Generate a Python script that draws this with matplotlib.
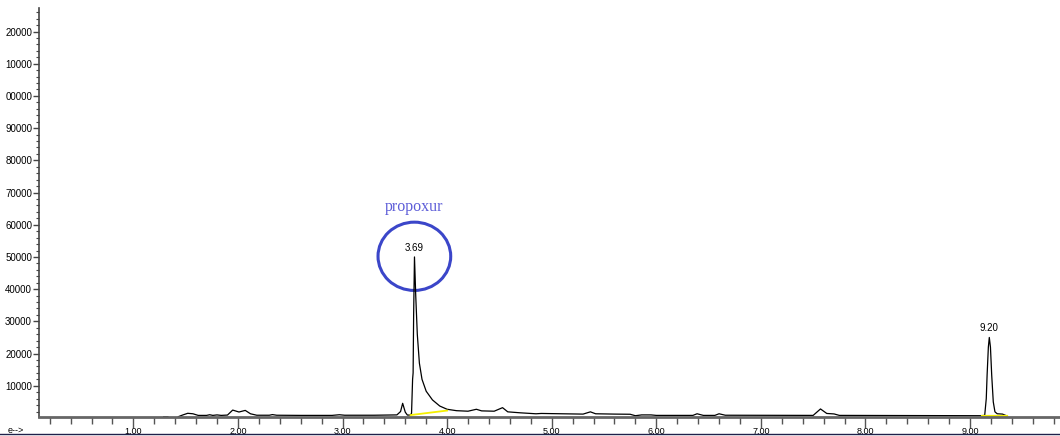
import matplotlib
matplotlib.use('Agg')
import matplotlib.pyplot as plt
import numpy as np
from matplotlib.patches import Ellipse
from matplotlib.lines import Line2D
from matplotlib.ticker import MultipleLocator

# Trace (time in min, abundance)
tiempo = [1.29, 1.33, 1.36, 1.43, 1.47, 1.52, 1.57, 1.62, 1.70, 1.73, 1.76, 1.80, 1.84, 1.90,
          1.95, 2.01, 2.07, 2.12, 2.18, 2.30, 2.33, 2.37, 2.60, 2.90, 2.97, 3.02, 3.30, 3.52,
          3.555, 3.575, 3.60, 3.62, 3.65, 3.66, 3.67, 3.675, 3.68, 3.688, 3.70, 3.715, 3.735,
          3.76, 3.80, 3.86, 3.93, 4.00, 4.09, 4.20, 4.28, 4.33, 4.45, 4.53, 4.58, 4.70, 4.85, 4.90,
          5.00, 5.10, 5.20, 5.30, 5.37, 5.42, 5.60, 5.75, 5.80, 5.86, 5.95, 6.00, 6.35, 6.39,
          6.45, 6.56, 6.60, 6.66, 7.50, 7.57, 7.63, 7.70, 7.75, 9.10, 9.14, 9.155, 9.163, 9.175,
          9.184, 9.195, 9.207, 9.222, 9.238, 9.26, 9.31, 9.34]
abundancia = [400, 400, np.nan, 400, 900, 1450, 1300, 800, 800, 1000, 800, 950, 800, 900,
              2450, 1850, 2350, 1300, 850, 850, 1050, 850, 800, 800, 1000, 850, 850, 950,
              2000, 4550, 1800, 900, 900, 1500, 12000, 14000, 32000, 50000, 38000, 26000, 17000,
              12000, 8300, 5600, 3700, 2700, 2260, 2100, 2700, 2200, 2100, 3200, 1900, 1600, 1300, 1400,
              1350, 1300, 1250, 1200, 1900, 1300, 1200, 1150, 700, 950, 950, 800, 800, 1300,
              800, 800, 1300, 850, 800, 2800, 1400, 1250, 800, 700, 800, 6000, 13300, 22000,
              25000, 22000, 13300, 5000, 1900, 1300, 1200, 800]

# integration baselines (yellow)
base_1_t = [3.65, 4.00]
base_1_v = [900, 2300]
base_2_t = [9.11, 9.35]
base_2_v = [700, 700]

picos = [(3.688, 50000, '3.69'), (9.184, 25000, '9.20')]

yticks = [10000, 20000, 30000, 40000, 50000, 60000, 70000, 80000, 90000, 100000, 110000, 120000]
ylabels = ['10000', '20000', '30000', '40000', '50000', '60000', '70000', '80000', '90000',
           '00000', '10000', '20000']
xticks = [1, 2, 3, 4, 5, 6, 7, 8, 9]
xlabels = ['1.00', '2.00', '3.00', '4.00', '5.00', '6.00', '7.00', '8.00', '9.00']

fuente = 'Liberation Sans'

fig = plt.figure(figsize=(10.6, 4.36), dpi=100)
ax = fig.add_axes([39 / 1060, 19 / 436, 1 - 39 / 1060, (417 - 8) / 436])

ax.plot(tiempo, abundancia, color='black', lw=0.9)
ax.plot(base_1_t, base_1_v, color='#f5f000', lw=1.3)
ax.plot(base_2_t, base_2_v, color='#f5f000', lw=1.6)

for t, v, txt in picos:
    ax.annotate(txt, (t, v), xytext=(0, 3), textcoords='offset points', ha='center', va='bottom',
                fontsize=7, family=fuente)

# circulo y nombre del compuesto
ax.add_patch(Ellipse((3.687, 50200), 0.695, 21200, fill=False, edgecolor='#3b46c9', lw=2.2))
ax.text(3.687, 65500, 'propoxur', ha='center', va='center', color='#5c5cd8',
        fontsize=11.5, family='Liberation Serif')

ax.set_xlim(0.098, 9.86)
ax.set_ylim(300, 127300)

ax.set_yticks(yticks)
ax.set_yticklabels(ylabels, family=fuente, fontsize=7)
ax.yaxis.set_minor_locator(MultipleLocator(2000))
ax.set_xticks(xticks)
ax.set_xticklabels(xlabels, family=fuente, fontsize=6.5)
ax.xaxis.set_minor_locator(MultipleLocator(0.2))

ax.tick_params(axis='y', which='major', length=4, width=1, color='#444444', pad=1)
ax.tick_params(axis='y', which='minor', length=2, width=0.8, color='#444444')
ax.tick_params(axis='x', which='major', length=8, width=1, color='#555555', pad=-1)
ax.tick_params(axis='x', which='minor', length=5, width=1, color='#555555')

for s in ['top', 'right']:
    ax.spines[s].set_visible(False)
ax.spines['left'].set_color('#444444')
ax.spines['left'].set_linewidth(1.2)
ax.spines['bottom'].set_color('#666666')
ax.spines['bottom'].set_linewidth(2)

# texto del eje cortado y linea inferior
fig.text(8 / 1060, 1 - 430 / 436, 'e-->', fontsize=6.5, family=fuente, va='center')
fig.add_artist(Line2D([0, 1], [1 - 433.5 / 436, 1 - 433.5 / 436], color='#20204a', lw=1))

fig.savefig('out.png', dpi=100)
